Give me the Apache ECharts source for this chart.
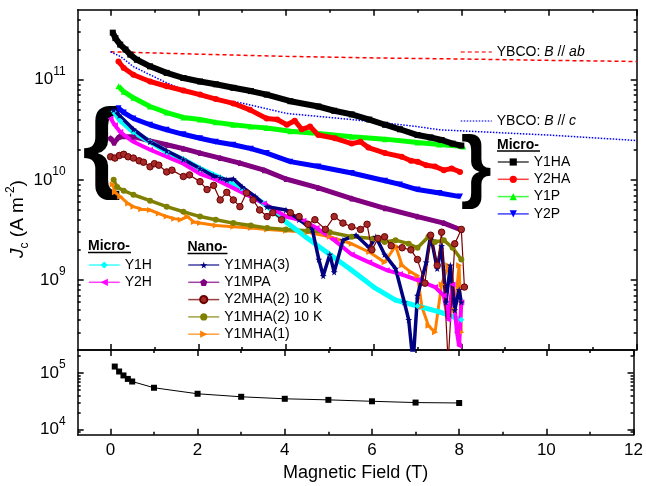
<!DOCTYPE html>
<html>
<head>
<meta charset="utf-8">
<script src="https://cdn.jsdelivr.net/npm/echarts@6/dist/echarts.min.js"></script>
<style>
html, body { margin: 0; padding: 0; background: #fff; }
#chart { width: 646px; height: 486px; }
</style>
</head>
<body>
<div id="chart"></div>
<script>
// [field (T), Jc (A m^-2)]
var ybcoAb = [[0,1.9e11],[2,1.8e11],[4,1.71e11],[6,1.65e11],[8,1.61e11],[10,1.56e11],[12,1.52e11]];
var ybcoC = [[0,1.9e11],[0.23,1.7e11],[0.52,1.35e11],[0.9,1.12e11],[1.28,9.3e10],[1.66,7.9e10],[2.04,6.8e10],[2.4,6.3e10],[2.95,5.9e10],[3.5,5.2e10],[4.02,4.6e10],[4.74,4.3e10],[5.5,4.0e10],[6.26,3.7e10],[7,3.4e10],[7.5,3.16e10],[10,2.8e10],[12,2.47e10]];

var y1ha = [[0.05,2.95e11],[0.11,2.6e11],[0.22,2.24e11],[0.34,2.0e11],[0.45,1.78e11],[0.6,1.58e11],[0.9,1.36e11],[1.28,1.17e11],[1.66,1.04e11],[2.04,9.6e10],[2.4,9.0e10],[2.8,8.3e10],[3.2,7.7e10],[3.56,7.1e10],[4.1,6.1e10],[4.74,5.4e10],[5.1,4.9e10],[5.5,4.5e10],[5.9,4.0e10],[6.26,3.55e10],[6.6,3.2e10],[7.0,2.8e10],[7.3,2.65e10],[7.55,2.5e10],[7.8,2.3e10],[8.0,2.2e10]];
var y2ha = [[0.18,1.52e11],[0.3,1.31e11],[0.52,1.12e11],[0.9,9.6e10],[1.28,8.6e10],[1.66,7.8e10],[2.04,7.1e10],[2.4,6.4e10],[2.8,5.8e10],[3.18,5.0e10],[3.56,4.1e10],[3.8,4.0e10],[4.02,3.55e10],[4.2,3.9e10],[4.36,3.2e10],[4.55,3.4e10],[4.74,2.8e10],[5.12,2.6e10],[5.5,2.3e10],[5.7,2.4e10],[5.88,2.1e10],[6.26,1.85e10],[6.64,1.7e10],[6.85,1.55e10],[7.0,1.52e10],[7.2,1.4e10],[7.4,1.36e10],[7.6,1.25e10],[7.78,1.3e10],[7.97,1.2e10]];
var y1p = [[0.18,8.6e10],[0.3,7.6e10],[0.52,6.6e10],[0.9,5.4e10],[1.28,4.7e10],[1.66,4.2e10],[2.04,4.0e10],[2.4,3.75e10],[2.8,3.55e10],[3.2,3.4e10],[3.56,3.3e10],[4.1,3.05e10],[4.74,2.9e10],[5.5,2.7e10],[6.26,2.55e10],[7.0,2.36e10],[7.5,2.25e10],[8.04,2.15e10]];
var y2p = [[0.18,5.2e10],[0.3,4.7e10],[0.52,4.1e10],[0.9,3.55e10],[1.28,3.16e10],[1.66,2.85e10],[2.04,2.6e10],[2.4,2.4e10],[2.8,2.24e10],[3.2,2.05e10],[3.56,1.85e10],[4.1,1.52e10],[4.74,1.36e10],[5.5,1.17e10],[6.26,9.8e9],[6.6,9.0e9],[7.0,8.0e9],[7.5,7.4e9],[7.97,6.8e9]];
var y1mpa = [[0.0,2.6e10],[0.08,2.35e10],[0.2,2.7e10],[0.52,2.7e10],[0.9,2.45e10],[1.28,2.24e10],[1.66,2.05e10],[2.04,1.85e10],[2.5,1.65e10],[2.95,1.47e10],[3.5,1.25e10],[4.0,1.02e10],[4.74,8.3e9],[5.5,6.5e9],[6.26,5.2e9],[7.0,4.3e9],[7.6,3.7e9],[8.0,3.16e9]];
var y1h = [[0.07,4.8e10],[0.22,3.9e10],[0.52,3.0e10],[0.9,2.4e10],[1.28,1.9e10],[1.66,1.6e10],[2.04,1.3e10],[2.5,1.05e10],[3.0,8.0e9],[3.5,5.8e9],[4.0,3.8e9],[4.5,2.6e9],[5.0,1.8e9],[5.5,1.25e9],[6.0,8.5e8],[6.5,6.3e8],[7.0,5.5e8],[7.5,4.8e8],[8.0,4.0e8]];
var y2h = [[0.0,4.1e10],[0.1,3.5e10],[0.22,3.0e10],[0.52,2.4e10],[0.9,2.0e10],[1.28,1.7e10],[1.66,1.45e10],[2.04,1.15e10],[2.42,1.0e10],[3.0,7.5e9],[3.5,5.8e9],[4.0,4.3e9],[4.4,3.9e9],[4.7,3.3e9],[5.1,2.5e9],[5.5,1.8e9],[5.9,1.5e9],[6.3,1.25e9],[6.6,1.15e9],[7.0,1.0e9],[7.4,8.5e8],[7.6,7.0e8],[7.7,4.0e8],[7.8,9.0e8],[7.9,3.0e8],[7.95,2.2e8],[8.0,6.0e8]];
var y1mha3 = [[0.07,5.0e10],[0.2,4.4e10],[0.52,3.2e10],[0.9,2.4e10],[1.28,1.95e10],[1.66,1.6e10],[2.04,1.3e10],[2.34,1.1e10],[2.5,1.05e10],[2.65,1.0e10],[2.8,1.02e10],[3.0,8.5e9],[3.3,6.8e9],[3.57,5.4e9],[4.0,5.0e9],[4.3,4.0e9],[4.6,3.2e9],[4.75,1.6e9],[4.85,1.1e9],[5.0,1.8e9],[5.1,1.2e9],[5.3,2.5e9],[5.6,2.8e9],[5.9,2.1e9],[6.05,2.7e9],[6.25,1.8e9],[6.5,1.3e9],[6.7,6.0e8],[6.8,4.0e8],[6.9,1.5e8],[7.0,7.0e8],[7.2,1.5e9],[7.3,2.8e9],[7.45,1.3e9],[7.55,2.2e9],[7.65,6.0e8],[7.75,1.4e9],[7.85,5.0e8],[7.95,8.0e8],[8.0,6.0e8]];
var y2mha2 = [[0.0,1.7e10],[0.1,1.65e10],[0.2,1.75e10],[0.3,1.8e10],[0.4,1.7e10],[0.52,1.65e10],[0.65,1.55e10],[0.75,1.5e10],[0.9,1.35e10],[1.0,1.45e10],[1.1,1.4e10],[1.28,1.2e10],[1.4,1.25e10],[1.66,1.08e10],[1.8,1.12e10],[2.04,9.6e9],[2.2,8.0e9],[2.35,8.8e9],[2.5,6.3e9],[2.65,7.5e9],[2.8,6.3e9],[2.95,5.4e9],[3.1,7.4e9],[3.25,6.3e9],[3.4,5.0e9],[3.57,4.3e9],[3.7,4.7e9],[3.9,4.0e9],[4.1,4.7e9],[4.3,4.3e9],[4.5,3.6e9],[4.66,4.0e9],[4.9,3.2e9],[5.1,4.3e9],[5.3,3.7e9],[5.5,3.4e9],[5.7,3.2e9],[5.85,3.6e9],[5.96,2.0e9],[6.1,2.6e9],[6.25,2.7e9],[6.4,2.2e9],[6.65,2.1e9],[6.85,2.0e9],[7.0,1.6e9],[7.17,9.3e8],[7.3,2.8e9],[7.45,1.4e9],[7.55,3.0e9],[7.7,1.5e8],[7.85,2.3e9],[8.0,3.2e9],[8.07,8.5e8]];
var y1mha2 = [[0.07,1.0e10],[0.15,8.5e9],[0.3,7.8e9],[0.52,7.1e9],[0.9,6.2e9],[1.28,5.4e9],[1.66,4.8e9],[2.04,4.3e9],[2.4,4.0e9],[2.8,3.7e9],[3.2,3.5e9],[3.57,3.3e9],[4.0,3.2e9],[4.5,3.1e9],[5.0,3.0e9],[5.5,2.7e9],[6.0,2.6e9],[6.25,2.4e9],[6.5,2.5e9],[6.8,2.3e9],[7.0,2.1e9],[7.25,2.7e9],[7.4,2.4e9],[7.6,2.5e9],[7.8,2.1e9],[8.0,1.6e9]];
var y1mha1 = [[0.05,9.0e9],[0.1,7.5e9],[0.22,6.8e9],[0.4,5.8e9],[0.52,5.4e9],[0.7,5.1e9],[0.9,5.0e9],[1.1,4.6e9],[1.28,4.3e9],[1.45,4.1e9],[1.6,4.0e9],[1.75,4.3e9],[1.9,3.8e9],[2.04,3.7e9],[2.4,3.5e9],[2.8,3.4e9],[3.2,3.3e9],[3.57,3.2e9],[4.0,3.1e9],[4.5,3.0e9],[5.0,2.7e9],[5.5,2.3e9],[5.9,1.9e9],[6.25,1.5e9],[6.5,2.2e9],[6.65,1.4e9],[6.85,1.2e9],[7.0,1.1e9],[7.1,5.4e8],[7.25,3.5e8],[7.4,3.0e8],[7.55,9.0e8],[7.7,1.4e9],[7.85,5.0e8],[7.95,1.4e9],[8.0,3.0e8]];

// lower panel
var fieldLower = [0.1,0.2,0.3,0.4,0.5,1,2,3,4,5,6,7,8];
var valueLower = [1.31e5,1.07e5,9.1e4,7.9e4,7.1e4,5.5e4,4.3e4,3.8e4,3.5e4,3.35e4,3.16e4,3.0e4,2.95e4];

// ticks
var xMajor = [0,2,4,6,8,10,12];
var xMinor = [1,3,5,7,9,11];
var topDecades = [9,10,11];
var lowDecades = [4,5];

var FONT = 'Liberation Sans, Arial, sans-serif';
var X_MIN = -0.75, X_MAX = 12;
var TOP_MIN = 2e8, TOP_MAX = 5e11;
var LOW_MIN = 8.05e3, LOW_MAX = 2.58e5;

function logMinors(lo, hi) {
  var out = [];
  for (var d = Math.floor(lo); d <= Math.ceil(hi); d++) {
    for (var k = 2; k <= 9; k++) {
      var v = d + Math.log10(k);
      if (v > lo && v < hi) out.push(v);
    }
  }
  return out;
}

var STAR = 'path://M50,0L61,35L98,35L68,57L79,91L50,70L21,91L32,57L2,35L39,35Z';
var TRI_DOWN = 'path://M0,0L10,0L5,9Z';
var TRI_LEFT = 'path://M0,5L9,0L9,10Z';
var TRI_RIGHT = 'path://M9,5L0,0L0,10Z';
var PENTA = 'path://M5,0L10,3.8L8.1,10L1.9,10L0,3.8Z';

function axisLineStyle() { return { color: '#000', width: 1.5 }; }

function deco(grid, pos, min, max, ticks, len, line) {
  return {
    type: 'value', gridIndex: grid, position: pos, min: min, max: max,
    axisLine: { show: !!line, onZero: false, lineStyle: axisLineStyle() },
    axisTick: { show: true, inside: true, length: len, customValues: ticks, lineStyle: axisLineStyle() },
    axisLabel: { show: false },
    splitLine: { show: false }
  };
}
function hiddenAxis(grid, type, min, max) {
  return {
    type: type, gridIndex: grid, min: min, max: max,
    axisLine: { show: false, onZero: false }, axisTick: { show: false },
    axisLabel: { show: false }, splitLine: { show: false }
  };
}
function powLabel(grid, min, max, decades) {
  var a = deco(grid, 'left', min, max, decades, 6, true);
  a.axisLabel = {
    show: true, customValues: decades, margin: 12, color: '#000',
    fontSize: 17, fontFamily: FONT, lineHeight: 28,
    formatter: function (v) { return '10{s|' + Math.round(v) + '}'; },
    rich: { s: { fontSize: 12, fontFamily: FONT, color: '#000', verticalAlign: 'top' } }
  };
  return a;
}

var tLo = Math.log10(TOP_MIN), tHi = Math.log10(TOP_MAX);
var lLo = Math.log10(LOW_MIN), lHi = Math.log10(LOW_MAX);

var xLabelAxis = deco(1, 'bottom', X_MIN, X_MAX, xMajor, 6, true);
xLabelAxis.axisLabel = { show: true, customValues: xMajor, margin: 7, color: '#000', fontSize: 17, fontFamily: FONT };
xLabelAxis.name = 'Magnetic Field (T)';
xLabelAxis.nameLocation = 'middle';
xLabelAxis.nameGap = 29;
xLabelAxis.nameTextStyle = { fontSize: 18, fontFamily: FONT, color: '#000' };

var xAxes = [
  hiddenAxis(0, 'value', X_MIN, X_MAX),
  deco(0, 'bottom', X_MIN, X_MAX, xMajor, 6, true),
  deco(0, 'bottom', X_MIN, X_MAX, xMinor, 3, false),
  deco(0, 'top', X_MIN, X_MAX, xMajor, 6, true),
  deco(0, 'top', X_MIN, X_MAX, xMinor, 3, false),
  hiddenAxis(1, 'value', X_MIN, X_MAX),
  xLabelAxis,
  deco(1, 'bottom', X_MIN, X_MAX, xMinor, 3, false),
  deco(1, 'top', X_MIN, X_MAX, xMajor, 6, true),
  deco(1, 'top', X_MIN, X_MAX, xMinor, 3, false)
];
var yAxes = [
  hiddenAxis(0, 'log', TOP_MIN, TOP_MAX),
  powLabel(0, tLo, tHi, topDecades),
  deco(0, 'left', tLo, tHi, logMinors(tLo, tHi), 3, false),
  deco(0, 'right', tLo, tHi, topDecades, 6, true),
  deco(0, 'right', tLo, tHi, logMinors(tLo, tHi), 3, false),
  hiddenAxis(1, 'log', LOW_MIN, LOW_MAX),
  powLabel(1, lLo, lHi, lowDecades),
  deco(1, 'left', lLo, lHi, logMinors(lLo, lHi), 3, false),
  deco(1, 'right', lLo, lHi, lowDecades, 6, true),
  deco(1, 'right', lLo, lHi, logMinors(lLo, lHi), 3, false)
];

function band(name, data, color, symbol, size, width, lineOpacity) {
  return {
    name: name, type: 'line', data: data, xAxisIndex: 0, yAxisIndex: 0,
    symbol: symbol, symbolSize: size, showSymbol: true,
    itemStyle: { color: color },
    lineStyle: { color: color, width: width, opacity: lineOpacity == null ? 1 : lineOpacity },
    emphasis: { disabled: true }
  };
}
function ybco(name, data, color, dash) {
  return {
    name: name, type: 'line', data: data, xAxisIndex: 0, yAxisIndex: 0,
    symbol: 'circle', showSymbol: false,
    itemStyle: { color: color, opacity: 0 },
    lineStyle: { color: color, width: 1.5, type: dash },
    emphasis: { disabled: true }
  };
}

var brown = band('Y2MHA(2) 10 K', y2mha2, '#a01818', 'circle', 6.5, 1.2);
brown.itemStyle = { color: '#a52a2a', borderColor: '#6b0000', borderWidth: 1 };
brown.lineStyle.color = '#7a0000';

var series = [
  ybco('YBCO_ab', ybcoAb, '#ff0000', [4, 3]),
  ybco('YBCO_c', ybcoC, '#0000ff', [1.5, 1.5]),
  band('Y1P', y1p, '#00ff00', 'triangle', 6, 5),
  band('Y2HA', y2ha, '#ff0000', 'circle', 6, 5),
  band('Y1HA', y1ha, '#000000', 'rect', 6, 6),
  band('Y2P', y2p, '#0000ff', TRI_DOWN, 6, 5),
  band('Y1MPA', y1mpa, '#800080', PENTA, 6, 5),
  band('Y1MHA(1)', y1mha1, '#ff8000', TRI_RIGHT, 6, 3),
  band('Y1MHA(2) 10 K', y1mha2, '#808000', 'circle', 6, 3.5),
  band('Y1H', y1h, '#00ffff', 'diamond', 6, 5),
  band('Y2H', y2h, '#ff00ff', TRI_LEFT, 6, 4),
  band('Y1MHA(3)', y1mha3, '#000080', STAR, 7, 3.5),
  brown,
  {
    name: 'lower', type: 'line', xAxisIndex: 5, yAxisIndex: 5,
    data: fieldLower.map(function (b, i) { return [b, valueLower[i]]; }),
    symbol: 'rect', symbolSize: 6, itemStyle: { color: '#000' },
    lineStyle: { color: '#000', width: 1 }, emphasis: { disabled: true }
  }
];

function legendBox(names, left, centerY) {
  return {
    data: names, orient: 'vertical', left: left, top: centerY - 8.65,
    padding: 0, itemGap: 0, itemWidth: 31, itemHeight: 9,
    selectedMode: false,
    lineStyle: { width: 1.5, opacity: 0.75 },
    textStyle: {
      fontSize: 14, fontFamily: FONT, color: '#000', lineHeight: 17.3,
      rich: { i: { fontSize: 14, fontFamily: FONT, fontStyle: 'italic', color: '#000' } }
    },
    formatter: function (n) {
      if (n === 'YBCO_ab') return 'YBCO: {i|B} // {i|ab}';
      if (n === 'YBCO_c') return 'YBCO: {i|B} // {i|c}';
      return n;
    }
  };
}

function header(text, x, cy, w) {
  return [
    { type: 'text', x: x, y: cy, style: { text: text, fontSize: 14, fontWeight: 'bold', fontFamily: FONT, fill: '#000', textVerticalAlign: 'middle', verticalAlign: 'middle' } },
    { type: 'line', shape: { x1: x, y1: cy + 6, x2: x + w, y2: cy + 6 }, style: { stroke: '#000', lineWidth: 1.4 } }
  ];
}

var graphics = [].concat(
  header('Micro-', 497, 145, 43),
  header('Micro-', 88, 246.5, 43),
  header('Nano-', 187.5, 247.5, 40),
  [
    { type: 'text', x: 102, y: 151, style: { text: '{', fontSize: 100, fontWeight: 'bold', fontFamily: FONT, fill: '#000', textAlign: 'center', align: 'center', textVerticalAlign: 'middle', verticalAlign: 'middle' } },
    { type: 'text', x: 476, y: 170, style: { text: '}', fontSize: 80, fontWeight: 'bold', fontFamily: FONT, fill: '#000', textAlign: 'center', align: 'center', textVerticalAlign: 'middle', verticalAlign: 'middle' } },
    {
      type: 'text', x: 18, y: 219, rotation: Math.PI / 2,
      style: {
        text: '{i|J}{sub|c} (A m{sup|-2})', fontSize: 19, fontFamily: FONT, fill: '#000', lineHeight: 26,
        textAlign: 'center', align: 'center', textVerticalAlign: 'middle', verticalAlign: 'middle',
        rich: {
          i: { fontSize: 19, fontFamily: FONT, fontStyle: 'italic', fill: '#000' },
          sub: { fontSize: 12, fontFamily: FONT, fill: '#000', verticalAlign: 'bottom' },
          sup: { fontSize: 12, fontFamily: FONT, fill: '#000', verticalAlign: 'top' }
        }
      }
    }
  ]
);

var chart = echarts.init(document.getElementById('chart'), null, { renderer: 'canvas' });
chart.setOption({
  animation: false,
  backgroundColor: '#fff',
  grid: [
    { left: 77.7, right: 9.3, top: 9.7, height: 340.3 },
    { left: 77.7, right: 9.3, top: 350, height: 84.7 }
  ],
  xAxis: xAxes,
  yAxis: yAxes,
  legend: [
    legendBox(['YBCO_ab'], 460, 52),
    legendBox(['YBCO_c'], 460, 121),
    legendBox(['Y1HA', 'Y2HA', 'Y1P', 'Y2P'], 497, 162),
    legendBox(['Y1H', 'Y2H'], 88, 265),
    legendBox(['Y1MHA(3)', 'Y1MPA', 'Y2MHA(2) 10 K', 'Y1MHA(2) 10 K', 'Y1MHA(1)'], 187.5, 265)
  ],
  graphic: graphics,
  series: series
});
</script>
</body>
</html>
